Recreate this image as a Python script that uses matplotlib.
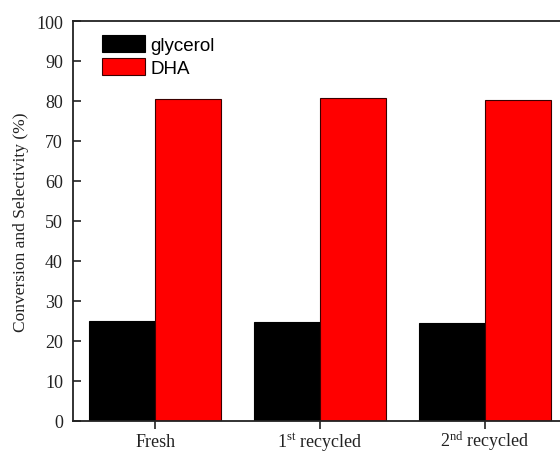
import numpy as np
import matplotlib.pyplot as plt

plt.rcParams['font.family'] = 'Liberation Serif'
plt.rcParams['mathtext.fontset'] = 'custom'
plt.rcParams['mathtext.rm'] = 'Liberation Serif'
plt.rcParams['mathtext.it'] = 'Liberation Serif:italic'

CATEGORIES = ['Fresh', '1$^{\\mathrm{st}}$ recycled', '2$^{\\mathrm{nd}}$ recycled']
GLYCEROL = [25.0, 24.8, 24.4]
DHA = [80.5, 80.8, 80.2]
Y_TICKS = np.arange(0, 101, 10)


def plot():
    fig = plt.figure(figsize=(5.6, 4.52), dpi=100)
    ax = fig.add_axes([0.1298, 0.067, 0.8836, 0.8843])

    x = np.arange(len(CATEGORIES))
    width = 0.4
    ax.bar(x - width / 2, GLYCEROL, width, color='black', edgecolor='black',
           linewidth=0.8, label='glycerol')
    ax.bar(x + width / 2, DHA, width, color='#ff0000', edgecolor='#3a0000',
           linewidth=0.8, label='DHA')

    ax.set_xlim(-0.5, 2.5)
    ax.set_ylim(0, 100)
    ax.set_yticks(Y_TICKS)
    ax.set_xticks(x)
    ax.set_xticklabels(CATEGORIES, va='baseline')

    for s in ax.spines.values():
        s.set_linewidth(1.3)
        s.set_color('#222222')

    ax.tick_params(axis='y', direction='in', length=6, width=1.2, pad=7,
                   labelsize=13, colors='#222222')
    ax.tick_params(axis='x', direction='out', length=6, width=1.2, pad=12.3,
                   labelsize=13, colors='#222222')
    ax.set_ylabel('Conversion and Selectivity (%)', fontsize=12.5, labelpad=5,
                  color='#222222')

    ax.legend(loc='upper left', bbox_to_anchor=(0.025, 1.006), frameon=False,
              prop={'family': 'Liberation Sans', 'size': 13.5},
              handlelength=2.3, handleheight=1.0, handletextpad=0.3,
              labelspacing=0.2)

    fig.savefig('out.png', dpi=100)


def main():
    plot()
    return 0


if __name__ == '__main__':
    main()
